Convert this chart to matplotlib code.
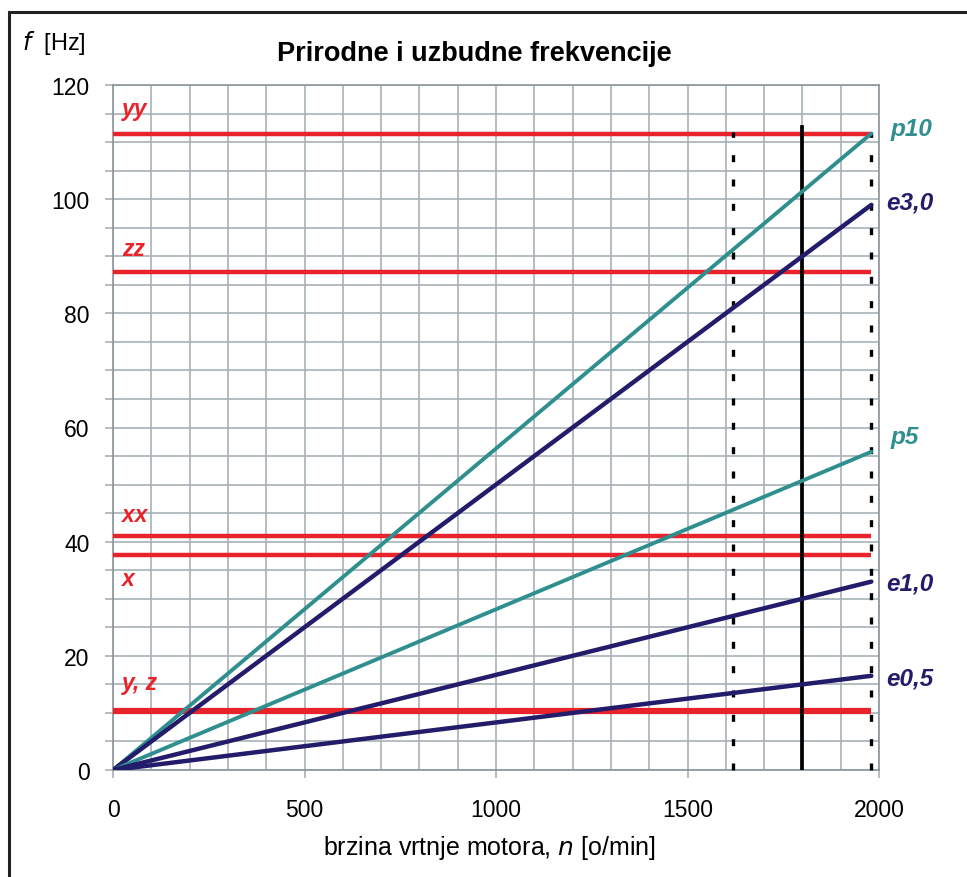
import matplotlib
matplotlib.use("Agg")
import matplotlib.pyplot as plt
from matplotlib.patches import Rectangle

plt.rcParams['font.family'] = ['Liberation Sans', 'DejaVu Sans']

# data
speed = [0, 1980]
line_names = ["p10", "e3,0", "p5", "e1,0", "e0,5"]
line_ends = [111.5, 99.0, 55.75, 33.0, 16.5]
line_kinds = ["p", "e", "p", "e", "e"]
red_names = ["yy", "zz", "xx", "x", "y, z"]
red_levels = [111.5, 87.2, 41.0, 37.6, 10.4]
red_label_y = [115.8, 91.3, 44.8, 33.5, 15.4]
right_label_y = [112.3, 99.5, 58.5, 32.8, 16.1]
dotted_x = [1620, 1980]
solid_x = 1800
xticks = [0, 500, 1000, 1500, 2000]
yticks = [0, 20, 40, 60, 80, 100, 120]

teal = "#2f8f8f"
navy = "#231c6b"
red = "#e8232b"
gridc = "#a7b1b6"

fig = plt.figure(figsize=(9.67, 8.78), dpi=100)
ax = fig.add_axes([113/967, 1-771/878, (879-113)/967, (771-86)/878])
ax.set_xlim(0, 2000)
ax.set_ylim(0, 120)

ax.set_xticks(range(0, 2001, 100), minor=True)
ax.set_yticks(range(0, 121, 5), minor=True)
ax.grid(True, which='both', color=gridc, linewidth=1.2)
ax.set_axisbelow(True)
ax.set_xticks(xticks)
ax.set_yticks(yticks)
ax.set_xticklabels([str(v) for v in xticks], fontsize=16.5)
ax.set_yticklabels([str(v) for v in yticks], fontsize=16.5)
ax.tick_params(axis='x', which='minor', length=0)
ax.tick_params(axis='y', which='both', length=6, color=gridc, pad=11, width=1.2)
ax.tick_params(axis='x', which='major', length=6, color=gridc, width=1.2, pad=14)
for s in ax.spines.values():
    s.set_color("#8a959b")
    s.set_linewidth(1.2)

# red horizontal lines
for nm, lv, ly in zip(red_names, red_levels, red_label_y):
    lw = 4.5 if nm == "y, z" else 3.2
    ax.plot(speed, [lv, lv], color=red, linewidth=lw, solid_capstyle='butt', zorder=3)
    ax.text(23, ly, nm, color=red, fontsize=16.5, fontweight='bold', fontstyle='italic',
            ha='left', va='center', zorder=5)

# vertical lines
for dx in dotted_x:
    ax.plot([dx, dx], [0, 111.8], color='black', linewidth=2.4, linestyle=(0, (2.1, 5.2)),
            zorder=4, clip_on=False)
ax.plot([solid_x, solid_x], [0, 112.6], color='black', linewidth=2.7, zorder=4)

# sloped lines
for nm, end, kind, ry in zip(line_names, line_ends, line_kinds, right_label_y):
    col = teal if kind == "p" else navy
    lw = 2.8 if kind == "p" else 3.2
    ax.plot(speed, [0, end], color=col, linewidth=lw, zorder=5, solid_capstyle='round')
    ax.text(2030 if nm in ("p10", "p5") else 2018, ry, nm, color=col, fontsize=17.5,
            fontweight='bold', fontstyle='italic', ha='left', va='center', clip_on=False)

fig.text(474/967, 1-54/878, "Prirodne i uzbudne frekvencije", fontsize=19.5,
         fontweight='bold', ha='center', va='center')
fig.text(22/967, 1-43/878, "$\\mathit{f}$  [Hz]", fontsize=17, ha='left', va='center')
fig.text(489/967, 1-848/878, "brzina vrtnje motora, $\\mathit{n}$ [o/min]", fontsize=18,
         ha='center', va='center')

# outer frame
fig.patches.append(Rectangle((9/967, -0.05), 1.2, 1 - 13/878 + 0.05, transform=fig.transFigure,
                             fill=False, edgecolor='#222222', linewidth=2.2))

fig.savefig("out.png", dpi=100)
